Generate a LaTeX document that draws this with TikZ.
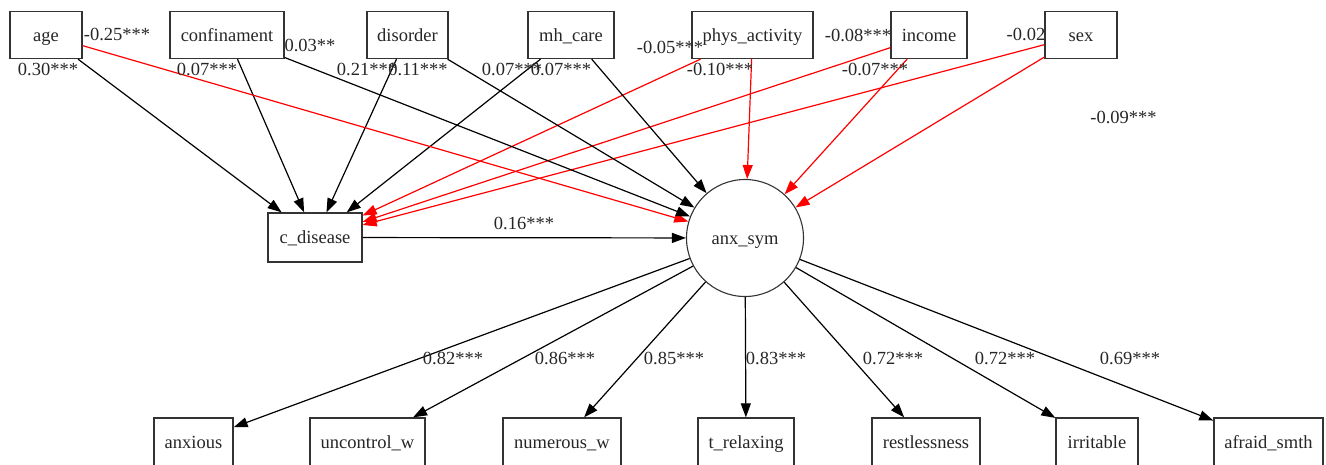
\documentclass[tikz,border=0pt]{standalone}
\usepackage{fontspec}
\setmainfont{Liberation Serif}
\usetikzlibrary{arrows.meta}
\begin{document}
\begin{tikzpicture}[x=1pt,y=-1pt,
  txt/.style={font=\fontsize{18.5}{22}\selectfont,text=black!85},
  box/.style={txt,draw=black!80,line width=1.3pt,minimum height=47pt,inner sep=0pt,text height=12.5pt,text depth=0pt},
  lat/.style={txt,circle,draw=black!80,line width=1.1pt,minimum size=117pt,inner sep=0pt,text height=12.5pt,text depth=0pt},
  posedge/.style={draw=black,line width=1.2pt,-{Triangle[length=14pt,width=10pt]}},
  negedge/.style={posedge,draw=red},
  lbl/.style={txt,inner sep=0pt}
]
\useasboundingbox (0,0) rectangle (1326,464);
% exogenous
\node[box,minimum width=72pt]  (age)  at (46,35)    {age};
\node[box,minimum width=114pt] (conf) at (227,35)   {confinament};
\node[box,minimum width=81pt]  (dis)  at (407.5,35) {disorder};
\node[box,minimum width=86pt]  (mh)   at (571,35)   {mh\_care};
\node[box,minimum width=121pt] (phys) at (752.5,35) {phys\_activity};
\node[box,minimum width=76pt]  (inc)  at (929,35)   {income};
\node[box,minimum width=72pt]  (sex)  at (1081,35)  {sex};
% mediators
\node[box,minimum width=94pt,minimum height=49pt] (cd) at (315,237.5) {c\_disease};
\node[lat] (anx) at (745,238) {anx\_sym};
% indicators
\node[box,minimum width=79pt,minimum height=48pt]  (i1) at (193.5,442) {anxious};
\node[box,minimum width=115pt,minimum height=48pt] (i2) at (367.5,442) {uncontrol\_w};
\node[box,minimum width=118pt,minimum height=48pt] (i3) at (562,442)   {numerous\_w};
\node[box,minimum width=96pt,minimum height=48pt]  (i4) at (746,442)   {t\_relaxing};
\node[box,minimum width=108pt,minimum height=48pt] (i5) at (926,442)   {restlessness};
\node[box,minimum width=82pt,minimum height=48pt]  (i6) at (1097,442)  {irritable};
\node[box,minimum width=109pt,minimum height=48pt] (i7) at (1268.5,442) {afraid\_smth};
% paths to c_disease
\draw[posedge] (age) -- (cd);
\draw[posedge] (conf) -- (cd);
\draw[posedge] (dis) -- (cd);
\draw[posedge] (mh) -- (cd);
\draw[negedge] (phys) -- (cd);
\draw[negedge] (inc) -- (cd);
\draw[negedge] (sex) -- (cd);
% paths to anx_sym
\draw[negedge] (age) -- (anx);
\draw[posedge] (conf) -- (anx);
\draw[posedge] (dis) -- (anx);
\draw[posedge] (mh) -- (anx);
\draw[negedge] (phys) -- (anx);
\draw[negedge] (inc) -- (anx);
\draw[negedge] (sex) -- (anx);
\draw[posedge] (cd) -- (anx);
% loadings
\foreach \i in {i1,i2,i3,i4,i5,i6,i7} \draw[posedge] (anx) -- (\i);
% labels
\node[lbl] (l1)  at (117,34)  {-0.25***};
\node[lbl] (l2)  at (48,69)   {0.30***};
\node[lbl] (l3)  at (207,69)  {0.07***};
\node[lbl] (l4)  at (310,45)  {0.03**};
\node[lbl] (l5)  at (367,69)  {0.21***};
\node[lbl] (l6)  at (418,69)  {0.11***};
\node[lbl] (l7)  at (512,69)  {0.07***};
\node[lbl] (l8)  at (561,69)  {0.07***};
\node[lbl] (l9)  at (670,47)  {-0.05***};
\node[lbl] (l10) at (720,69)  {-0.10***};
\node[lbl] (l11) at (858,35)  {-0.08***};
\node[lbl] (l12) at (875,69)  {-0.07***};
\node[lbl] (l13) at (1026,34) {-0.02};
\node[lbl] (l14) at (1123.5,117) {-0.09***};
\node[lbl] (l15) at (524,223) {0.16***};
\node[lbl] (m1) at (453,358)  {0.82***};
\node[lbl] (m2) at (565,358)  {0.86***};
\node[lbl] (m3) at (674,358)  {0.85***};
\node[lbl] (m4) at (776,358)  {0.83***};
\node[lbl] (m5) at (893,358)  {0.72***};
\node[lbl] (m6) at (1005,358) {0.72***};
\node[lbl] (m7) at (1130,358) {0.69***};
\end{tikzpicture}
\end{document}
